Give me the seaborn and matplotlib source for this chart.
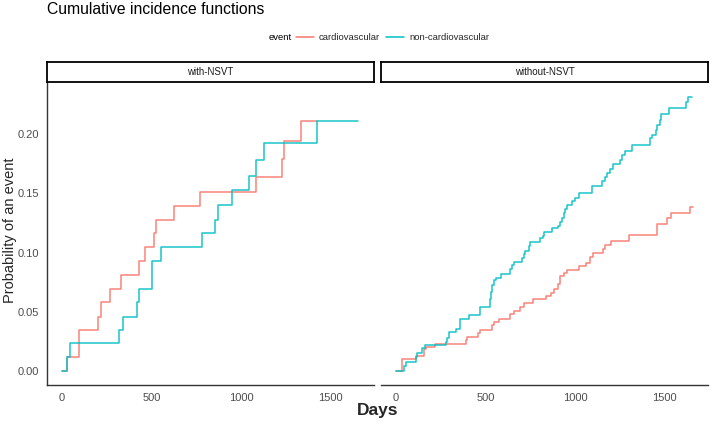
import matplotlib
matplotlib.use('Agg')
import matplotlib.pyplot as plt
import seaborn as sns
import numpy as np
import pandas as pd
from matplotlib.lines import Line2D
from matplotlib.patches import Rectangle

# step points (day of jump, cumulative probability after the jump)
with_cv_days = [0, 31, 94, 204, 217, 270, 331, 429, 463, 512, 525, 623, 771, 1082, 1228, 1238, 1334, 1425]
with_cv_prob = [0, 0.0117, 0.0349, 0.046, 0.058, 0.0695, 0.0815, 0.0926, 0.1046, 0.1163, 0.1278, 0.1395,
                0.1512, 0.1635, 0.179, 0.194, 0.2107, 0.2107]

with_ncv_days = [0, 26, 48, 318, 340, 420, 429, 503, 555, 781, 855, 870, 951, 1043, 1082, 1128, 1425, 1650]
with_ncv_prob = [0, 0.0117, 0.0234, 0.0346, 0.046, 0.058, 0.0695, 0.0926, 0.1046, 0.1163, 0.1278, 0.1398,
                 0.1526, 0.1646, 0.178, 0.192, 0.2107, 0.2107]

without_cv_days = [0, 33, 111, 157, 167, 218, 389, 398, 459, 468, 537, 546, 574, 635, 661, 694, 717, 765,
                   837, 865, 883, 907, 917, 935, 954, 1022, 1060, 1083, 1102, 1157, 1167, 1198, 1300, 1454,
                   1513, 1537, 1643, 1658]
without_cv_prob = [0, 0.010, 0.0128, 0.0184, 0.0207, 0.0226, 0.0262, 0.0285, 0.0318, 0.0346, 0.0388, 0.0416,
                   0.0444, 0.048, 0.0508, 0.0542, 0.0575, 0.0606, 0.0634, 0.0662, 0.0695, 0.0737, 0.080,
                   0.0829, 0.0857, 0.0885, 0.0915, 0.096, 0.0997, 0.103, 0.1064, 0.110, 0.1147, 0.124,
                   0.1287, 0.1332, 0.138, 0.138]

without_ncv_days = [0, 43, 56, 111, 120, 143, 163, 278, 287, 296, 333, 357, 407, 468, 472, 524, 531, 537, 546,
                    561, 587, 639, 648, 657, 704, 717, 722, 741, 746, 806, 820, 828, 870, 907, 917, 926, 935,
                    944, 957, 981, 1000, 1019, 1093, 1148, 1167, 1176, 1194, 1213, 1250, 1259, 1278, 1317,
                    1417, 1426, 1450, 1459, 1472, 1481, 1524, 1617, 1630, 1654]
without_ncv_prob = [0, 0.0047, 0.0075, 0.0123, 0.0151, 0.0193, 0.0221, 0.0249, 0.0276, 0.0332, 0.036, 0.0438,
                    0.0472, 0.05, 0.0542, 0.0611, 0.0667, 0.0723, 0.0765, 0.0785, 0.0821, 0.0863, 0.0896,
                    0.0924, 0.0952, 0.0988, 0.1016, 0.1058, 0.1086, 0.112, 0.1142, 0.117, 0.1203, 0.1225,
                    0.1259, 0.1295, 0.1337, 0.1365, 0.1398, 0.1435, 0.1463, 0.1499, 0.156, 0.1602, 0.1639,
                    0.1667, 0.17, 0.1742, 0.1784, 0.1826, 0.1853, 0.1905, 0.1968, 0.1993, 0.2035, 0.2077,
                    0.2119, 0.2167, 0.2217, 0.2267, 0.2314, 0.2314]

groups = ['with-NSVT', 'without-NSVT']
events = ['cardiovascular', 'non-cardiovascular']
palette = {'cardiovascular': '#F8766D', 'non-cardiovascular': '#00BFC4'}

series = {
    ('with-NSVT', 'cardiovascular'): (with_cv_days, with_cv_prob),
    ('with-NSVT', 'non-cardiovascular'): (with_ncv_days, with_ncv_prob),
    ('without-NSVT', 'cardiovascular'): (without_cv_days, without_cv_prob),
    ('without-NSVT', 'non-cardiovascular'): (without_ncv_days, without_ncv_prob),
}
frames = []
for (grp, ev), (d, p) in series.items():
    frames.append(pd.DataFrame({'group': grp, 'event': ev, 'days': d, 'prob': p}))
df = pd.concat(frames, ignore_index=True)

sns.set_style('white')
plt.rcParams['font.family'] = ['Liberation Sans', 'DejaVu Sans']

W, H = 712, 424
fig = plt.figure(figsize=(W / 100, H / 100), dpi=100)

def fbox(x0, y0, x1, y1):
    # pixel box (top-left origin) -> figure fraction
    return [x0 / W, 1 - y1 / H, (x1 - x0) / W, (y1 - y0) / H]

panels = [(47, 374), (381, 708)]
ptop, pbot = 82, 385
xlim = (-83, 1741)
ylim = (-0.0116, 0.2437)
tick_col = '#4D4D4D'

for i, (grp, (x0, x1)) in enumerate(zip(groups, panels)):
    ax = fig.add_axes(fbox(x0, ptop, x1, pbot))
    sub = df[df['group'] == grp]
    sns.lineplot(data=sub, x='days', y='prob', hue='event', palette=palette, estimator=None,
                 drawstyle='steps-post', linewidth=1.1, alpha=0.9, legend=False, ax=ax)
    ax.set_xlim(*xlim)
    ax.set_ylim(*ylim)
    ax.set_xticks([0, 500, 1000, 1500])
    ax.set_xlabel('')
    ax.set_ylabel('')
    for s in ['top', 'right']:
        ax.spines[s].set_visible(False)
    ax.spines['bottom'].set_color('#333333')
    ax.spines['bottom'].set_linewidth(1.0)
    ax.tick_params(axis='x', length=3.5, width=0.8, color='#333333', labelsize=8, labelcolor=tick_col, pad=2)
    if i == 0:
        ax.set_yticks([0, 0.05, 0.10, 0.15, 0.20])
        ax.set_yticklabels(['0.00', '0.05', '0.10', '0.15', '0.20'])
        ax.spines['left'].set_color('#333333')
        ax.spines['left'].set_linewidth(1.0)
        ax.tick_params(axis='y', length=3.5, width=0.8, color='#333333', labelsize=8, labelcolor=tick_col, pad=2)
    else:
        ax.spines['left'].set_visible(False)
        ax.set_yticks([])

    # facet strip
    sax = fig.add_axes(fbox(x0, 62, x1, 82))
    sax.set_xticks([])
    sax.set_yticks([])
    for s in sax.spines.values():
        s.set_color('black')
        s.set_linewidth(1.3)
    sax.text(0.5, 0.5, grp, ha='center', va='center', fontsize=7, color='#1A1A1A', transform=sax.transAxes)

fig.text(47 / W, 1 - 10 / H, 'Cumulative incidence functions', ha='left', va='center', fontsize=11.3, color='black')
fig.text(10 / W, 1 - 230 / H, 'Probability of an event', rotation=90, ha='center', va='center', fontsize=10.5)
fig.text(378 / W, 1 - 411 / H, 'Days', ha='center', va='center', fontsize=12.5, fontweight='bold')

# legend
fig.text(269 / W, 1 - 38 / H, 'event', ha='left', va='center', fontsize=6.8, color='black')
handles = [Line2D([], [], color=palette[e], linewidth=1.1) for e in events]
fig.legend(handles, events, loc='center left', bbox_to_anchor=(296 / W, 1 - 38 / H), ncol=2, frameon=False,
           fontsize=6.8, handlelength=1.9, handletextpad=0.5, columnspacing=0.7, borderpad=0, borderaxespad=0)

fig.savefig('out.png', dpi=100)
